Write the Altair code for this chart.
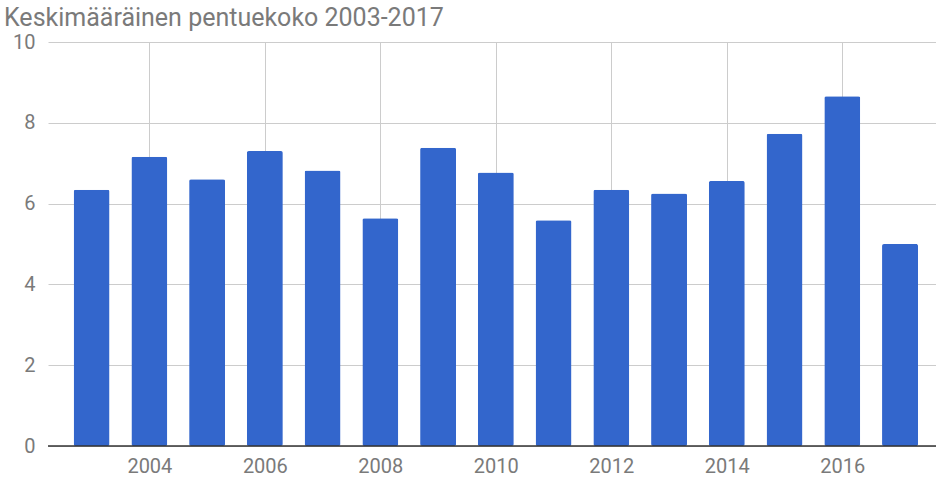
import altair as alt
import pandas as pd

years = [2003, 2004, 2005, 2006, 2007, 2008, 2009, 2010, 2011, 2012, 2013, 2014, 2015, 2016, 2017]
values = [6.34, 7.16, 6.60, 7.30, 6.82, 5.64, 7.38, 6.77, 5.59, 6.34, 6.25, 6.56, 7.73, 8.66, 5.00]
x_ticks = [2004, 2006, 2008, 2010, 2012, 2014, 2016]
y_ticks = [0, 2, 4, 6, 8, 10]
title_text = "Keskimääräinen pentuekoko 2003-2017"

df = pd.DataFrame({"year": years, "value": values})

xscale = alt.Scale(domain=[2002.331, 2017.536], nice=False, zero=False)
yscale = alt.Scale(domain=[0, 10], nice=False)

bars = alt.Chart(df).mark_bar(size=36, color="#3366CC", cornerRadius=2).encode(
    x=alt.X("year:Q", scale=xscale,
            axis=alt.Axis(values=x_ticks, format="d", title=None, grid=True,
                          gridColor="#cccccc", domain=False, ticks=False,
                          labelPadding=10, labelFontSize=20, labelColor="#7a7a7a",
                          labelFont="Roboto")),
    y=alt.Y("value:Q", scale=yscale,
            axis=alt.Axis(values=y_ticks, title=None, grid=True, gridColor="#cccccc",
                          domain=False, ticks=False, labelPadding=13, labelFontSize=20,
                          labelColor="#7a7a7a", labelFont="Roboto")),
)

base = alt.Chart(pd.DataFrame({"z": [0]})).mark_rule(color="#333333", strokeWidth=1.5).encode(
    y=alt.Y("z:Q", scale=yscale)
)

chart = alt.layer(bars, base).properties(
    width=888, height=404,
    autosize=alt.AutoSizeParams(type="none"),
    padding={"left": 48, "top": 42, "right": 0, "bottom": 34},
    title=alt.TitleParams(title_text, anchor="start", frame="group", dx=-44,
                          offset=14, dy=13, fontSize=25, font="Roboto", fontWeight="normal",
                          color="#7a7a7a"),
).configure_view(stroke=None)

chart.save("out.html", embed_options={"renderer": "svg", "actions": False})
